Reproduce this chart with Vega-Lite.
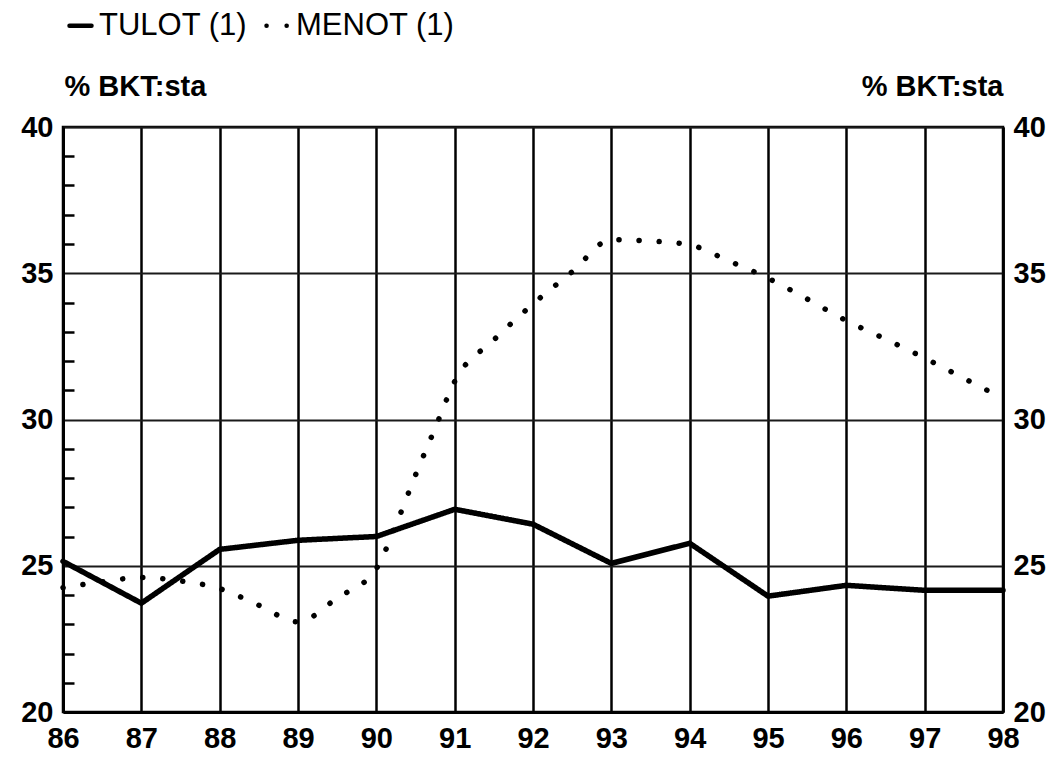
{
  "$schema": "https://vega.github.io/schema/vega-lite/v6.json",
  "autosize": {"type": "none"},
  "padding": {"left": 63, "top": 127, "right": 50, "bottom": 45},
  "width": 940,
  "height": 585,
  "background": "white",
  "data": {
    "values": [
      {"year": 86, "series": "TULOT (1)", "value": 25.15},
      {"year": 87, "series": "TULOT (1)", "value": 23.72},
      {"year": 88, "series": "TULOT (1)", "value": 25.56},
      {"year": 89, "series": "TULOT (1)", "value": 25.87},
      {"year": 90, "series": "TULOT (1)", "value": 26.0},
      {"year": 91, "series": "TULOT (1)", "value": 26.93},
      {"year": 92, "series": "TULOT (1)", "value": 26.42},
      {"year": 93, "series": "TULOT (1)", "value": 25.08},
      {"year": 94, "series": "TULOT (1)", "value": 25.77},
      {"year": 95, "series": "TULOT (1)", "value": 23.96},
      {"year": 96, "series": "TULOT (1)", "value": 24.33},
      {"year": 97, "series": "TULOT (1)", "value": 24.16},
      {"year": 98, "series": "TULOT (1)", "value": 24.16},
      {"year": 86, "series": "MENOT (1)", "value": 24.25},
      {"year": 86.5, "series": "MENOT (1)", "value": 24.45},
      {"year": 87, "series": "MENOT (1)", "value": 24.6},
      {"year": 87.5, "series": "MENOT (1)", "value": 24.48},
      {"year": 88, "series": "MENOT (1)", "value": 24.22},
      {"year": 88.5, "series": "MENOT (1)", "value": 23.65},
      {"year": 89, "series": "MENOT (1)", "value": 23.08},
      {"year": 89.5, "series": "MENOT (1)", "value": 23.9},
      {"year": 90, "series": "MENOT (1)", "value": 24.9},
      {"year": 90.25, "series": "MENOT (1)", "value": 26.4},
      {"year": 90.5, "series": "MENOT (1)", "value": 28.1},
      {"year": 90.75, "series": "MENOT (1)", "value": 29.7},
      {"year": 91, "series": "MENOT (1)", "value": 31.3},
      {"year": 91.5, "series": "MENOT (1)", "value": 32.72},
      {"year": 92, "series": "MENOT (1)", "value": 33.95},
      {"year": 92.5, "series": "MENOT (1)", "value": 35.05},
      {"year": 93, "series": "MENOT (1)", "value": 36.15},
      {"year": 93.5, "series": "MENOT (1)", "value": 36.1},
      {"year": 94, "series": "MENOT (1)", "value": 35.97},
      {"year": 94.5, "series": "MENOT (1)", "value": 35.42},
      {"year": 95, "series": "MENOT (1)", "value": 34.83},
      {"year": 95.5, "series": "MENOT (1)", "value": 34.12},
      {"year": 96, "series": "MENOT (1)", "value": 33.38},
      {"year": 96.5, "series": "MENOT (1)", "value": 32.75},
      {"year": 97, "series": "MENOT (1)", "value": 32.1},
      {"year": 97.5, "series": "MENOT (1)", "value": 31.41},
      {"year": 98, "series": "MENOT (1)", "value": 30.72}
    ]
  },
  "layer": [
    {
      "transform": [{"filter": "datum.series === 'TULOT (1)'"}],
      "mark": {"type": "line", "color": "black", "strokeWidth": 5.5, "strokeCap": "round", "strokeJoin": "round", "interpolate": "linear"},
      "encoding": {
        "x": {
          "field": "year", "type": "quantitative",
          "scale": {"domain": [86, 98], "nice": false, "zero": false},
          "axis": {
            "title": null, "values": [86, 87, 88, 89, 90, 91, 92, 93, 94, 95, 96, 97, 98],
            "ticks": false, "tickSize": 0, "labelPadding": 12,
            "grid": true, "gridColor": "black", "gridWidth": 2.5, "gridOpacity": 1,
            "domain": true, "domainColor": "black", "domainWidth": 3,
            "labelFlush": false, "labelOverlap": false
          }
        },
        "y": {
          "field": "value", "type": "quantitative",
          "scale": {"domain": [20, 40], "nice": false, "zero": false},
          "axis": {
            "orient": "left", "values": [20, 25, 30, 35, 40],
            "title": "% BKT:sta", "titleAngle": 0, "titleAlign": "left", "titleBaseline": "alphabetic",
            "titleX": 1, "titleY": -32, "titleFont": "Liberation Sans", "titleFontSize": 29, "titleFontWeight": "bold", "titleColor": "black",
            "ticks": false, "tickSize": 0, "labelPadding": 10,
            "grid": true, "gridColor": "#1a1a1a", "gridWidth": 2, "gridOpacity": 1,
            "domain": true, "domainColor": "black", "domainWidth": 3,
            "labelFlush": false, "labelOverlap": false
          }
        },
        "strokeDash": {
          "field": "series", "type": "nominal",
          "scale": {"domain": ["TULOT (1)", "MENOT (1)"], "range": [[1, 0], [0.1, 20]]},
          "legend": {
            "title": null, "orient": "none", "legendX": 2, "legendY": -117, "direction": "horizontal",
            "symbolType": "stroke", "symbolSize": 484, "symbolStrokeWidth": 4.5, "symbolStrokeColor": "black",
            "labelFont": "Liberation Sans", "labelFontSize": 31, "labelColor": "black", "labelOffset": 3,
            "columnPadding": 9, "labelLimit": 300,
            "encode": {"symbols": {"update": {"strokeCap": {"value": "round"}}}}
          }
        }
      }
    },
    {
      "transform": [{"filter": "datum.series === 'MENOT (1)'"}],
      "mark": {"type": "line", "color": "black", "strokeWidth": 5.5, "strokeCap": "round", "strokeJoin": "round", "interpolate": "monotone"},
      "encoding": {
        "x": {
          "field": "year", "type": "quantitative",
          "scale": {"domain": [86, 98], "nice": false, "zero": false},
          "axis": {
            "title": null, "values": [86, 87, 88, 89, 90, 91, 92, 93, 94, 95, 96, 97, 98],
            "ticks": false, "tickSize": 0, "labelPadding": 12,
            "grid": true, "gridColor": "black", "gridWidth": 2.5, "gridOpacity": 1,
            "domain": true, "domainColor": "black", "domainWidth": 3,
            "labelFlush": false, "labelOverlap": false
          }
        },
        "y": {
          "field": "value", "type": "quantitative",
          "axis": {
            "orient": "right", "values": [20, 25, 30, 35, 40],
            "title": "% BKT:sta", "titleAngle": 0, "titleAlign": "right", "titleBaseline": "alphabetic",
            "titleX": 0, "titleY": -32, "titleFont": "Liberation Sans", "titleFontSize": 29, "titleFontWeight": "bold", "titleColor": "black",
            "ticks": false, "tickSize": 0, "labelPadding": 10, "grid": false,
            "domain": true, "domainColor": "black", "domainWidth": 2.5,
            "labelFlush": false, "labelOverlap": false
          }
        },
        "strokeDash": {"field": "series", "type": "nominal"}
      }
    },
    {
      "transform": [{"filter": "datum.series === 'TULOT (1)'"}],
      "mark": {"type": "line", "opacity": 0},
      "encoding": {
        "x": {
          "field": "year", "type": "quantitative",
          "scale": {"domain": [86, 98], "nice": false, "zero": false},
          "axis": {
            "title": null, "values": [86, 87, 88, 89, 90, 91, 92, 93, 94, 95, 96, 97, 98],
            "ticks": false, "tickSize": 0, "labelPadding": 12,
            "grid": true, "gridColor": "black", "gridWidth": 2.5, "gridOpacity": 1,
            "domain": true, "domainColor": "black", "domainWidth": 3,
            "labelFlush": false, "labelOverlap": false
          }
        },
        "y": {
          "field": "value", "type": "quantitative",
          "axis": {
            "orient": "left", "offset": -11,
            "values": [21, 22, 23, 24, 26, 27, 28, 29, 31, 32, 33, 34, 36, 37, 38, 39],
            "title": null, "labels": false, "grid": false, "domain": false,
            "ticks": true, "tickSize": 11, "tickWidth": 2.5, "tickColor": "black"
          }
        }
      }
    }
  ],
  "resolve": {"axis": {"y": "independent"}},
  "config": {
    "view": {"stroke": "black", "strokeWidth": 2.5},
    "axis": {"labelFont": "Liberation Sans", "labelFontSize": 29, "labelFontWeight": "bold", "labelColor": "black"}
  }
}
